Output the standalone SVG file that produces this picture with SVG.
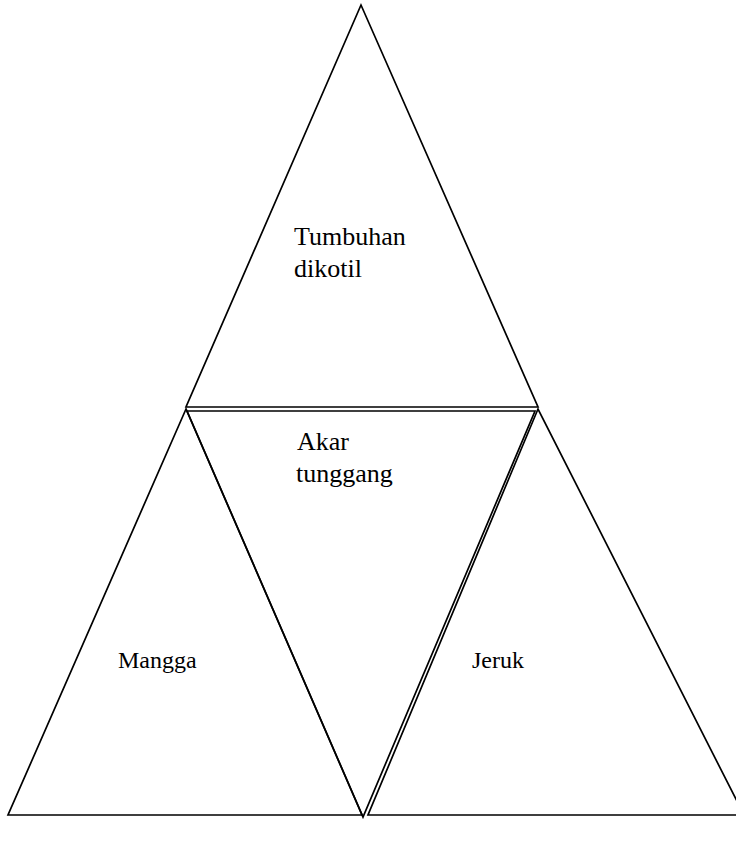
<svg xmlns="http://www.w3.org/2000/svg" width="736" height="847" viewBox="0 0 736 847">
<style>
.tri{fill:none;stroke:#000;stroke-width:1.7;stroke-linejoin:miter}
.lbl{font-family:"Liberation Serif","Times New Roman",serif;font-size:24px;fill:#000}
.big{font-size:26px}
</style>
<rect width="736" height="847" fill="#fff"/>
<g id="top">
<path class="tri" d="M361,5 L186,407 L538,407 Z"/>
<text class="lbl big" x="294" y="245">Tumbuhan</text>
<text class="lbl big" x="294" y="277">dikotil</text>
</g>
<g id="middle">
<path class="tri" d="M187,411 L535,411 L363,817 Z"/>
<text class="lbl big" x="297" y="450">Akar</text>
<text class="lbl big" x="296" y="482">tunggang</text>
</g>
<g id="left">
<path class="tri" d="M186,409 L8,815 L362,815 Z"/>
<text class="lbl" x="118" y="668">Mangga</text>
</g>
<g id="right">
<path class="tri" d="M538,409 L368,815 L744,815 Z"/>
<text class="lbl" x="472" y="668">Jeruk</text>
</g>
<g id="connectors"/>
</svg>
